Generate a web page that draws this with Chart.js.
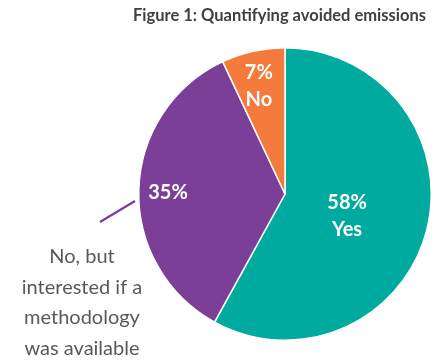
<!DOCTYPE html>
<html>
<head>
<meta charset="utf-8">
<script src="https://cdn.jsdelivr.net/npm/chart.js@4"></script>
<style>
  html, body { margin: 0; padding: 0; background: #fff; }
  #wrap { width: 446px; height: 362px; position: relative; }
</style>
</head>
<body>
<div id="wrap"><canvas id="pie-chart"></canvas></div>
<script>
// Data
const categories = ['Yes', 'No, but interested if a methodology was available', 'No'];
const shares = [58, 35, 7];
const sliceLabels = [['58%', 'Yes'], ['35%'], ['7%', 'No']];
const calloutLines = ['No, but', 'interested if a', 'methodology', 'was available'];
const chartTitle = 'Figure 1: Quantifying avoided emissions';

const colours = ['#00AA9E', '#7B3F97', '#F47B3B'];

// where each in-slice label sits: fraction of radius, angle shift in degrees
const labelPlace = [
    { r: 0.45, shift: 5 },
    { r: 0.80, shift: -1.3 },
    { r: 0.76, shift: -1 }
];

const extras = {
    id: 'extras',
    afterDatasetsDraw(chart) {
        const ctx = chart.ctx;
        const arcs = chart.getDatasetMeta(0).data;
        ctx.save();

        // labels inside slices
        ctx.fillStyle = '#ffffff';
        ctx.font = 'bold 20px Lato';
        ctx.textAlign = 'center';
        ctx.textBaseline = 'middle';
        arcs.forEach((arc, i) => {
            const p = arc.getProps(['x', 'y', 'startAngle', 'endAngle', 'outerRadius'], true);
            const mid = (p.startAngle + p.endAngle) / 2 + labelPlace[i].shift * Math.PI / 180;
            const r = p.outerRadius * labelPlace[i].r;
            const lx = p.x + Math.cos(mid) * r;
            const ly = p.y + Math.sin(mid) * r;
            const lines = sliceLabels[i];
            lines.forEach((t, k) => {
                ctx.fillText(t, lx, ly + (k - (lines.length - 1) / 2) * 27);
            });
        });

        // leader line for the purple slice
        ctx.strokeStyle = colours[1];
        ctx.lineWidth = 2.2;
        ctx.beginPath();
        ctx.moveTo(100, 222);
        ctx.lineTo(135, 201);
        ctx.stroke();

        // callout text
        ctx.fillStyle = '#595959';
        ctx.font = '20px Lato';
        calloutLines.forEach((t, k) => {
            ctx.fillText(t, 82, 257 + k * 30.5);
        });

        // title
        ctx.fillStyle = '#404040';
        ctx.font = 'bold 16.5px Lato';
        ctx.textAlign = 'right';
        ctx.fillText(chartTitle, 426, 16);

        ctx.restore();
    }
};

new Chart(document.getElementById('pie-chart'), {
    type: 'pie',
    data: {
        labels: categories,
        datasets: [{
            data: shares,
            backgroundColor: colours,
            borderColor: '#ffffff',
            borderWidth: 1.5
        }]
    },
    options: {
        responsive: true,
        maintainAspectRatio: false,
        animation: false,
        layout: { padding: { left: 138, right: 14, top: 47, bottom: 21 } },
        plugins: {
            legend: { display: false },
            tooltip: { enabled: false },
            title: { display: false }
        }
    },
    plugins: [extras]
});
</script>
</body>
</html>
